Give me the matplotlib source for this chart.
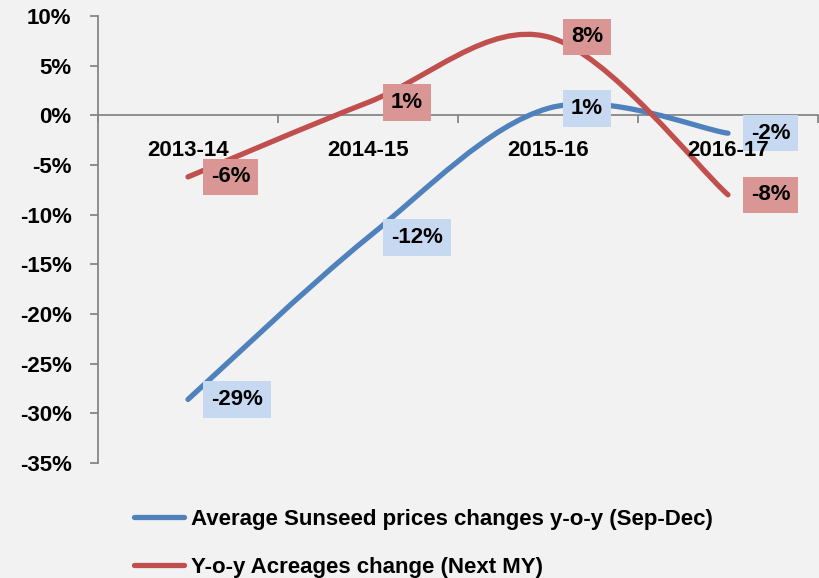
import matplotlib
matplotlib.use("Agg")
import matplotlib.pyplot as plt
from matplotlib.path import Path
from matplotlib.patches import PathPatch
import numpy as np

plt.rcParams['font.family'] = ['Liberation Sans', 'DejaVu Sans']
plt.rcParams['font.weight'] = 'bold'

seasons = ["2013-14", "2014-15", "2015-16", "2016-17"]
price_change = [-28.6, -12.3, 0.7, -1.8]      # Average Sunseed prices changes y-o-y (Sep-Dec), %
acreage_change = [-6.2, 1.3, 7.9, -8.0]       # Y-o-y Acreages change (Next MY), %
price_labels = ["-29%", "-12%", "1%", "-2%"]
acreage_labels = ["-6%", "1%", "8%", "-8%"]
yticks = list(range(-35, 11, 5))

BG = "#F2F2F2"
BLUE, RED = "#4F81BD", "#C0504D"
BLUE_BOX, RED_BOX = "#C6D9F1", "#D99694"
AXIS = "#868686"
FS = 16


def smooth_path(xs, ys):
    # Excel-like smoothed line: cubic bezier through the points
    pts = list(zip(xs, ys))
    verts = [pts[0]]
    codes = [Path.MOVETO]
    n = len(pts)
    for i in range(n - 1):
        p0 = pts[max(i - 1, 0)]
        p1 = pts[i]
        p2 = pts[i + 1]
        p3 = pts[min(i + 2, n - 1)]
        c1 = (p1[0] + (p2[0] - p0[0]) / 6, p1[1] + (p2[1] - p0[1]) / 6)
        c2 = (p2[0] - (p3[0] - p1[0]) / 6, p2[1] - (p3[1] - p1[1]) / 6)
        verts += [c1, c2, p2]
        codes += [Path.CURVE4] * 3
    return Path(verts, codes)


fig = plt.figure(figsize=(8.19, 5.78), dpi=100, facecolor=BG)
ax = fig.add_axes([98 / 819, 1 - 463 / 578, 720 / 819, 447 / 578])
ax.set_facecolor(BG)

x = np.arange(len(seasons))
for vals, col, name in [(price_change, BLUE, "Average Sunseed prices changes y-o-y (Sep-Dec)"),
                        (acreage_change, RED, "Y-o-y Acreages change (Next MY)")]:
    ax.add_patch(PathPatch(smooth_path(x, vals), facecolor="none", edgecolor=col,
                           lw=3.8, capstyle="round", zorder=3))
    ax.plot([], [], color=col, lw=3.8, solid_capstyle="round", label=name)

for vals, labs, box in [(price_change, price_labels, BLUE_BOX),
                        (acreage_change, acreage_labels, RED_BOX)]:
    for xi, v, t in zip(x, vals, labs):
        ax.annotate(t, (xi, v), xytext=(23, 0), textcoords="offset pixels",
                    ha="left", va="center", fontsize=FS, fontweight="bold", zorder=5,
                    bbox=dict(boxstyle="square,pad=0.35", fc=box, ec="none"))

ax.set_xlim(-0.5, len(seasons) - 0.5)
ax.set_ylim(-35, 10)
ax.set_yticks(yticks)
ax.set_yticklabels([f"{v}%" for v in yticks], fontsize=FS, fontweight="bold")
ax.tick_params(axis="y", length=6, width=1.3, color=AXIS, pad=13)

ax.set_xticks(np.arange(-0.5, len(seasons), 1.0))
ax.set_xticklabels([])
ax.set_xticks(x, minor=True)
ax.set_xticklabels(seasons, minor=True, fontsize=FS, fontweight="bold")
ax.tick_params(axis="x", which="major", direction="out", length=6, width=1.3, color=AXIS)
ax.tick_params(axis="x", which="minor", length=0, pad=18, labelsize=FS)
ax.xaxis.set_zorder(6)

ax.spines["bottom"].set_position(("data", 0))
for s in ["top", "right"]:
    ax.spines[s].set_visible(False)
for s in ["left", "bottom"]:
    ax.spines[s].set_color(AXIS)
    ax.spines[s].set_linewidth(1.3)

fig.legend(loc="upper left", bbox_to_anchor=(134 / 819, 1 - 509 / 578), frameon=False,
           prop={"size": FS, "weight": "bold"}, handlelength=2.25, handletextpad=0.32,
           labelspacing=1.2, borderpad=0, borderaxespad=0)

fig.savefig("out.png", dpi=100, facecolor=BG)
